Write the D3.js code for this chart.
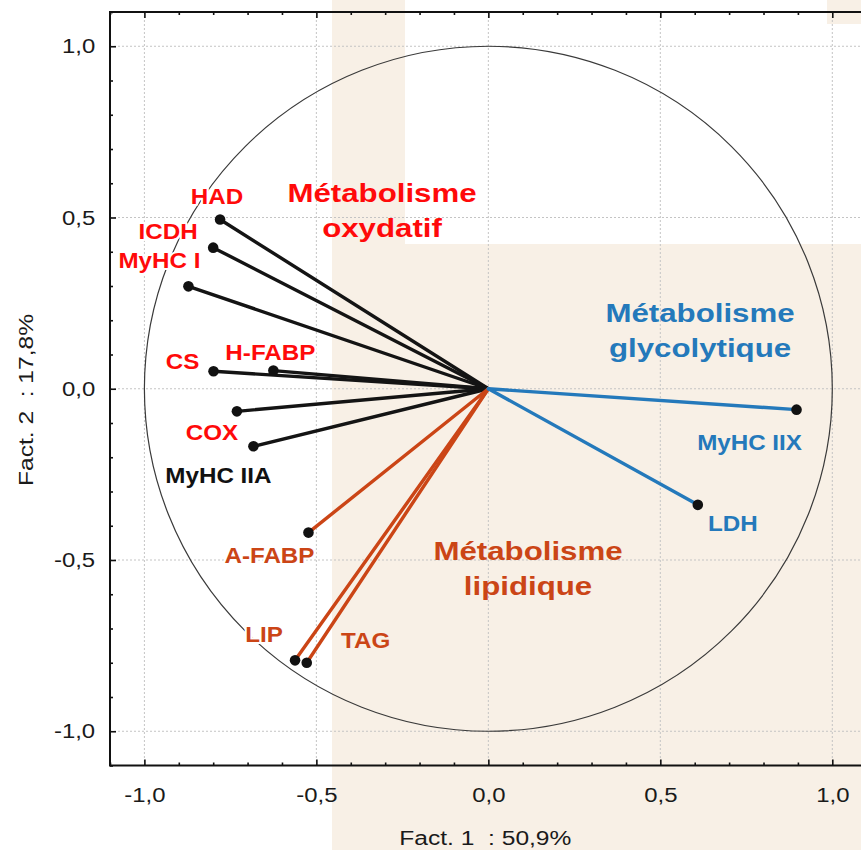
<!DOCTYPE html>
<html>
<head>
<meta charset="utf-8">
<script src="https://cdn.jsdelivr.net/npm/d3@7"></script>
<style>
body { margin: 0; background: #fff; }
</style>
</head>
<body>
<div id="canvas"></div>
<script>
// ----------------------------------------------------------
// DATA -----------------------------------------------------
// ----------------------------------------------------------
var var_names = ["HAD", "ICDH", "MyHC I", "CS", "H-FABP", "COX", "MyHC IIA",
                 "A-FABP", "LIP", "TAG", "MyHC IIX", "LDH"];
var fact_1 = [-0.780, -0.800, -0.872, -0.799, -0.625, -0.731, -0.683,
              -0.523, -0.562, -0.528, 0.896, 0.609];
var fact_2 = [0.494, 0.412, 0.299, 0.051, 0.053, -0.066, -0.168,
              -0.420, -0.793, -0.800, -0.061, -0.339];
// metabolic group of each variable (line colour)
var var_group = ["oxy", "oxy", "oxy", "oxy", "oxy", "oxy", "oxy",
                 "lip", "lip", "lip", "gly", "gly"];
// label colour class
var label_class = ["red", "red", "red", "red", "red", "red", "black",
                   "lip", "lip", "lip", "gly", "gly"];

var tick_values = [-1.0, -0.5, 0.0, 0.5, 1.0];
var axis_titles = ["Fact. 1  : 50,9%", "Fact. 2  : 17,8%"];

var group_titles = [["Métabolisme", "oxydatif"], ["Métabolisme", "glycolytique"], ["Métabolisme", "lipidique"]];
var group_title_class = ["red", "gly", "lip"];

// ----------------------------------------------------------
// LAYOUT ---------------------------------------------------
// ----------------------------------------------------------
var data_set = {
  container_width: 861,
  container_height: 850,
  plot_left: 110,
  plot_right: 866.7,
  plot_top: 12,
  plot_bottom: 765.5,
  color_beige: "#f8f0e6",
  color_grid: "#c4c4c4",
  color_text: "#1a1a1a"
};

var colors = {
  oxy: "#141414",
  lip: "#cb4516",
  gly: "#2479bb",
  red: "#ff0a0a",
  black: "#111111"
};

// label offsets (px from the point: centre x, baseline y)
var label_offset = {
  "HAD": [-3, -16], "ICDH": [-45, -9], "MyHC I": [-29, -18], "CS": [-31, -2],
  "H-FABP": [-3, -11], "COX": [-25, 29], "MyHC IIA": [-35, 37], "A-FABP": [-39, 30],
  "LIP": [-31, -18], "TAG": [59, -15], "MyHC IIX": [-47, 40], "LDH": [35, 26]
};
// group title anchors (px centre, first baseline)
var title_pos = [[382, 202], [700, 322], [528, 560]];

var data = var_names.map((d, i) => ({
  name: d, f1: fact_1[i], f2: fact_2[i], group: var_group[i], lab: label_class[i]
}));

// ----------------------------------------------------------
// STRUCTURE ------------------------------------------------
// ----------------------------------------------------------
var svg = d3.select("#canvas").append("svg")
  .attr("width", data_set.container_width)
  .attr("height", data_set.container_height)
  .style("font-family", "'Liberation Sans', Arial, sans-serif");

// background picture areas
var bg = svg.append("g").attr("class", "bg_group");
bg.append("rect").attr("x", 332).attr("y", 0).attr("width", 529).attr("height", 850)
  .attr("fill", data_set.color_beige);
bg.append("rect").attr("x", 405).attr("y", 0).attr("width", 456).attr("height", 244)
  .attr("fill", "#fff");
bg.append("rect").attr("x", 827).attr("y", 0).attr("width", 34).attr("height", 24)
  .attr("fill", data_set.color_beige);

var x = d3.scaleLinear().domain([-1.1, 1.1]).range([data_set.plot_left, data_set.plot_right]);
var y = d3.scaleLinear().domain([-1.1, 1.1]).range([data_set.plot_bottom, data_set.plot_top]);

var fmt = (v) => v.toFixed(1).replace(".", ",");
var minor_ticks = d3.range(-11, 12).map((i) => i / 10).filter((v) => Math.abs(v * 2 - Math.round(v * 2)) > 1e-6);

// ----------------------------------------------------------
// GRID -----------------------------------------------------
var grid = svg.append("g").attr("class", "grid");
grid.selectAll(".gv").data(tick_values).enter().append("line")
  .attr("x1", (d) => x(d)).attr("x2", (d) => x(d))
  .attr("y1", data_set.plot_top).attr("y2", data_set.plot_bottom)
  .attr("stroke", data_set.color_grid).attr("stroke-width", 1).attr("stroke-dasharray", "2,2");
grid.selectAll(".gh").data(tick_values).enter().append("line")
  .attr("y1", (d) => y(d)).attr("y2", (d) => y(d))
  .attr("x1", data_set.plot_left).attr("x2", data_set.plot_right)
  .attr("stroke", data_set.color_grid).attr("stroke-width", 1).attr("stroke-dasharray", "2,2");

// unit circle
svg.append("ellipse")
  .attr("cx", x(0)).attr("cy", y(0))
  .attr("rx", x(1) - x(0)).attr("ry", y(0) - y(1))
  .attr("fill", "none").attr("stroke", "#3a3a3a").attr("stroke-width", 1.2);

// ----------------------------------------------------------
// VECTORS --------------------------------------------------
var vec = svg.append("g").attr("class", "vectors");
vec.selectAll("line").data(data).enter().append("line")
  .attr("x1", x(0)).attr("y1", y(0))
  .attr("x2", (d) => x(d.f1)).attr("y2", (d) => y(d.f2))
  .attr("stroke", (d) => colors[d.group])
  .attr("stroke-width", 3.4)
  .attr("stroke-linecap", "round");
vec.selectAll("circle").data(data).enter().append("circle")
  .attr("cx", (d) => x(d.f1)).attr("cy", (d) => y(d.f2))
  .attr("r", 5.3).attr("fill", "#111");

// ----------------------------------------------------------
// LABELS ---------------------------------------------------
function addText(g, px, py, str, size, sx, weight, fill, halo) {
  var t = g.append("text")
    .attr("transform", `translate(${px},${py}) scale(${sx},1)`)
    .attr("text-anchor", "middle")
    .style("font-size", size + "px")
    .style("font-weight", weight)
    .style("white-space", "pre")
    .attr("fill", fill)
    .text(str);
  if (halo) {
    t.attr("stroke", halo).attr("stroke-width", 4).attr("stroke-linejoin", "round")
      .style("paint-order", "stroke");
  }
  return t;
}

var labels = svg.append("g").attr("class", "labels");
data.forEach(function (d) {
  var o = label_offset[d.name];
  var px = x(d.f1) + o[0], py = y(d.f2) + o[1];
  var halo = px < 332 ? "#fff" : data_set.color_beige;
  addText(labels, px, py, d.name, 22, 1.1, "bold", colors[d.lab], halo);
});

group_titles.forEach(function (lines, i) {
  lines.forEach(function (s, j) {
    addText(labels, title_pos[i][0], title_pos[i][1] + j * 35, s, 25, 1.25, "bold",
      colors[group_title_class[i]], null);
  });
});

// ----------------------------------------------------------
// AXES -----------------------------------------------------
var axes = svg.append("g").attr("class", "axes");

function styleAxis(g) {
  g.select(".domain").remove();
  g.selectAll(".tick line").attr("stroke", "#111").attr("stroke-width", 1.6);
}

// bottom
axes.append("g").attr("transform", `translate(0,${data_set.plot_bottom})`)
  .call(d3.axisBottom(x).tickValues(minor_ticks).tickSize(-3).tickFormat(""))
  .call(styleAxis);
var xb = axes.append("g").attr("transform", `translate(0,${data_set.plot_bottom})`)
  .call(d3.axisBottom(x).tickValues(tick_values).tickSize(-6).tickPadding(22).tickFormat(fmt))
  .call(styleAxis);
// top
axes.append("g").attr("transform", `translate(0,${data_set.plot_top})`)
  .call(d3.axisTop(x).tickValues(minor_ticks).tickSize(-3).tickFormat(""))
  .call(styleAxis);
axes.append("g").attr("transform", `translate(0,${data_set.plot_top})`)
  .call(d3.axisTop(x).tickValues(tick_values).tickSize(-6).tickFormat(""))
  .call(styleAxis);
// left
axes.append("g").attr("transform", `translate(${data_set.plot_left},0)`)
  .call(d3.axisLeft(y).tickValues(minor_ticks).tickSize(-3).tickFormat(""))
  .call(styleAxis);
var yl = axes.append("g").attr("transform", `translate(${data_set.plot_left},0)`)
  .call(d3.axisLeft(y).tickValues(tick_values).tickSize(-6).tickPadding(13).tickFormat(fmt))
  .call(styleAxis);

[xb, yl].forEach(function (g) {
  g.selectAll(".tick text")
    .style("font-size", "21px")
    .style("font-family", "'Liberation Sans', Arial, sans-serif")
    .attr("fill", data_set.color_text)
    .attr("transform", "scale(1.14,1)");
});

// frame
axes.append("rect")
  .attr("x", data_set.plot_left).attr("y", data_set.plot_top)
  .attr("width", data_set.plot_right - data_set.plot_left)
  .attr("height", data_set.plot_bottom - data_set.plot_top)
  .attr("fill", "none").attr("stroke", "#111").attr("stroke-width", 2);

// axis titles
addText(axes, x(0) - 3, 845, axis_titles[0], 21, 1.17, "normal", data_set.color_text, null);
axes.append("text")
  .attr("transform", `translate(33,400) rotate(-90) scale(1.17,1)`)
  .attr("text-anchor", "middle")
  .style("font-size", "21px")
  .style("white-space", "pre")
  .attr("fill", data_set.color_text)
  .text(axis_titles[1]);
</script>
</body>
</html>
